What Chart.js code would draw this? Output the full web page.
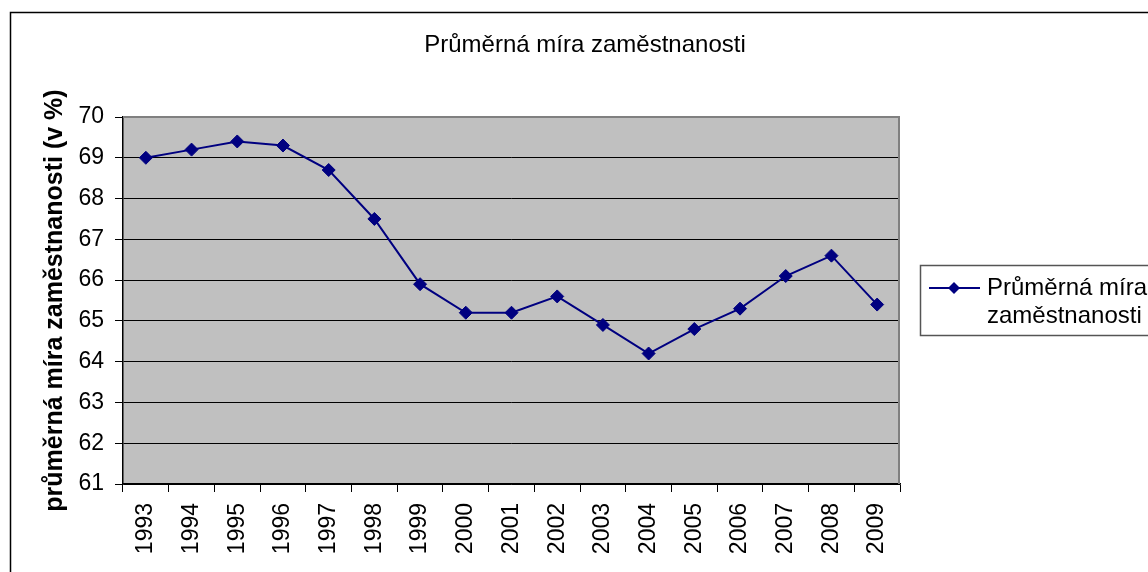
<!DOCTYPE html>
<html>
<head>
<meta charset="utf-8">
<script src="https://cdn.jsdelivr.net/npm/chart.js@4/dist/chart.umd.min.js"></script>
<style>
  html, body { margin: 0; padding: 0; background: #fff; }
  #wrap { width: 1148px; height: 572px; }
</style>
</head>
<body>
<div id="wrap"><canvas id="chart" width="1148" height="572"></canvas></div>
<script>
// Chart data
const years = ['1993', '1994', '1995', '1996', '1997', '1998', '1999', '2000', '2001',
  '2002', '2003', '2004', '2005', '2006', '2007', '2008', '2009'];
const employmentRate = [69.0, 69.2, 69.4, 69.3, 68.7, 67.5, 65.9, 65.2, 65.2,
  65.6, 64.9, 64.2, 64.8, 65.3, 66.1, 66.6, 65.4];
const chartTitle = 'Průměrná míra zaměstnanosti';
const axisTitle = 'průměrná míra zaměstnanosti (v %)';
const legendLines = ['Průměrná míra', 'zaměstnanosti'];

const FONT = 'Arial, "Liberation Sans", sans-serif';
const NAVY = '#000080';

// Background, plot fill, frame, title and legend (Excel-like look)
const excelLook = {
  id: 'excelLook',
  beforeDraw(chart) {
    const { ctx, chartArea: a } = chart;
    ctx.save();
    ctx.fillStyle = '#fff';
    ctx.fillRect(0, 0, chart.width, chart.height);
    ctx.fillStyle = '#c0c0c0';
    ctx.fillRect(a.left, a.top, a.right - a.left, a.bottom - a.top);
    ctx.restore();
  },
  afterDraw(chart) {
    const { ctx, chartArea: a } = chart;
    ctx.save();
    // outer frame (runs past the window on right and bottom)
    ctx.strokeStyle = '#000';
    ctx.lineWidth = 1.5;
    ctx.strokeRect(10.5, 12.5, 1200, 600);

    // top / right edge of plot area
    ctx.strokeStyle = '#808080';
    ctx.lineWidth = 2;
    ctx.beginPath();
    ctx.moveTo(a.left, a.top);
    ctx.lineTo(a.right - 1, a.top);
    ctx.lineTo(a.right - 1, a.bottom);
    ctx.stroke();

    // title
    ctx.fillStyle = '#000';
    ctx.font = '24px ' + FONT;
    ctx.textAlign = 'center';
    ctx.textBaseline = 'middle';
    ctx.fillText(chartTitle, 585, 45);

    // legend
    ctx.strokeStyle = '#555';
    ctx.lineWidth = 1.5;
    ctx.strokeRect(920.5, 265.5, 300, 70);
    const ds = chart.data.datasets[0];
    ctx.strokeStyle = ds.borderColor;
    ctx.lineWidth = ds.borderWidth;
    ctx.beginPath();
    ctx.moveTo(929, 288);
    ctx.lineTo(980, 288);
    ctx.stroke();
    ctx.fillStyle = ds.pointBackgroundColor;
    ctx.beginPath();
    ctx.moveTo(954, 282);
    ctx.lineTo(960, 288);
    ctx.lineTo(954, 294);
    ctx.lineTo(948, 288);
    ctx.closePath();
    ctx.fill();
    ctx.fillStyle = '#000';
    ctx.font = '24px ' + FONT;
    ctx.textAlign = 'left';
    ctx.fillText(legendLines[0], 987, 288);
    ctx.fillText(legendLines[1], 987, 316);
    ctx.restore();
  }
};

new Chart(document.getElementById('chart'), {
  type: 'line',
  data: {
    labels: years,
    datasets: [{
      label: legendLines.join(' '),
      data: employmentRate,
      borderColor: NAVY,
      borderWidth: 2,
      backgroundColor: NAVY,
      pointBackgroundColor: NAVY,
      pointBorderColor: NAVY,
      pointStyle: 'rectRot',
      pointRadius: 6.5,
      pointBorderWidth: 1,
      tension: 0,
      fill: false
    }]
  },
  options: {
    responsive: false,
    animation: false,
    layout: { padding: { top: 117, right: 248, left: 0, bottom: 0 } },
    plugins: {
      legend: { display: false },
      title: { display: false },
      tooltip: { enabled: false }
    },
    scales: {
      x: {
        type: 'category',
        offset: true,
        afterFit(s) { s.height = 88; },
        grid: {
          offset: true,
          drawOnChartArea: false,
          drawTicks: true,
          tickLength: 8,
          color: '#000'
        },
        border: { display: true, color: '#000', width: 1.5 },
        ticks: {
          autoSkip: false,
          minRotation: 90,
          maxRotation: 90,
          padding: 11,
          color: '#000',
          font: { family: FONT, size: 23 }
        }
      },
      y: {
        min: 61,
        max: 70,
        afterFit(s) { s.width = 123; },
        grid: {
          color: '#000',
          lineWidth: 1,
          drawTicks: true,
          tickLength: 8
        },
        border: { display: true, color: '#000', width: 1.5 },
        ticks: {
          stepSize: 1,
          padding: 11,
          color: '#000',
          font: { family: FONT, size: 23 }
        },
        title: {
          display: true,
          text: axisTitle,
          color: '#000',
          padding: { top: 40, bottom: 0 },
          font: { family: FONT, size: 25, weight: 'bold' }
        }
      }
    }
  },
  plugins: [excelLook]
});
</script>
</body>
</html>
